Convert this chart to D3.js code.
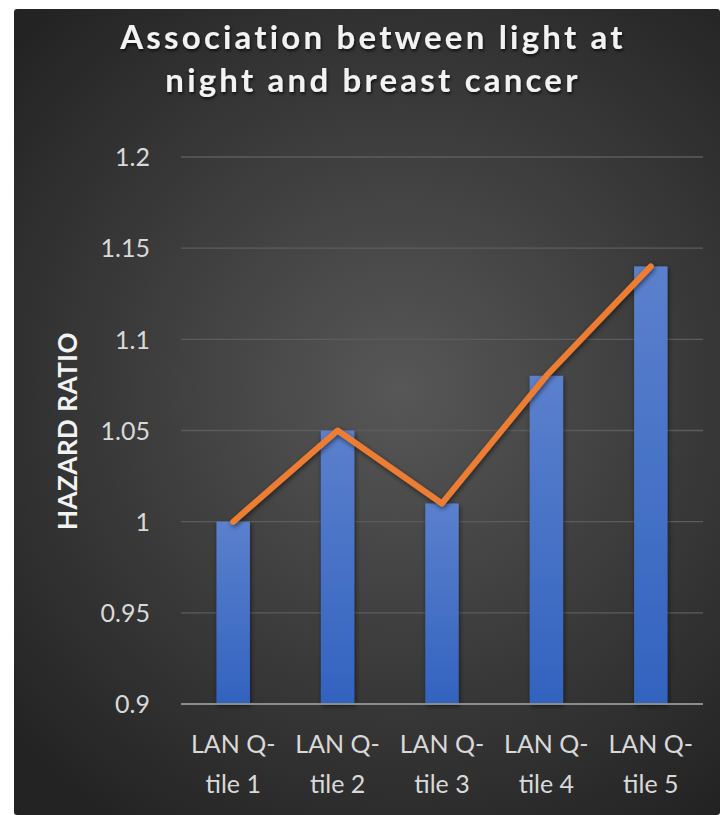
<!DOCTYPE html>
<html>
<head>
<meta charset="utf-8">
<script src="https://cdn.jsdelivr.net/npm/d3@7"></script>
<style>
  html, body { margin: 0; padding: 0; background: #ffffff; }
  svg { display: block; }
</style>
</head>
<body>
<svg id="chart" width="720" height="815"></svg>
<script>
// Hazard ratio of breast cancer by light-at-night (LAN) quintile
const categories = ["LAN Q-tile 1", "LAN Q-tile 2", "LAN Q-tile 3", "LAN Q-tile 4", "LAN Q-tile 5"];
const categoryLines = [["LAN Q-", "tile 1"], ["LAN Q-", "tile 2"], ["LAN Q-", "tile 3"], ["LAN Q-", "tile 4"], ["LAN Q-", "tile 5"]];
const barValues = [1.00, 1.05, 1.01, 1.08, 1.14];
const lineValues = [1.00, 1.05, 1.01, 1.08, 1.14];
const yTicks = [0.9, 0.95, 1, 1.05, 1.1, 1.15, 1.2];
const yTickLabels = ["0.9", "0.95", "1", "1.05", "1.1", "1.15", "1.2"];
const titleLines = ["Association between light at", "night and breast cancer"];
const yTitle = "HAZARD RATIO";

const svg = d3.select("#chart");
const W = 720, H = 815;
const panel = { x: 14, y: 9, w: W - 14, h: H - 9 };
const plot = { left: 181, right: 703, top: 157, bottom: 704 };

const defs = svg.append("defs");

// background: dark radial glow
const bg = defs.append("radialGradient").attr("id", "bgGrad")
  .attr("gradientUnits", "userSpaceOnUse")
  .attr("cx", 400).attr("cy", 390).attr("r", 520);
bg.append("stop").attr("offset", "0%").attr("stop-color", "#575757");
bg.append("stop").attr("offset", "55%").attr("stop-color", "#3a3a3a");
bg.append("stop").attr("offset", "100%").attr("stop-color", "#232323");

const barGrad = defs.append("linearGradient").attr("id", "barGrad")
  .attr("x1", 0).attr("y1", 0).attr("x2", 0).attr("y2", 1);
barGrad.append("stop").attr("offset", "0%").attr("stop-color", "#5b80cd");
barGrad.append("stop").attr("offset", "100%").attr("stop-color", "#3263bf");

const shadow = defs.append("filter").attr("id", "shadow")
  .attr("x", "-20%").attr("y", "-20%").attr("width", "140%").attr("height", "140%");
shadow.append("feDropShadow").attr("dx", 1).attr("dy", 2).attr("stdDeviation", 2.5)
  .attr("flood-color", "#000").attr("flood-opacity", 0.55);

const textShadow = defs.append("filter").attr("id", "textShadow")
  .attr("x", "-10%").attr("y", "-30%").attr("width", "120%").attr("height", "160%");
textShadow.append("feDropShadow").attr("dx", 1).attr("dy", 2).attr("stdDeviation", 1.5)
  .attr("flood-color", "#000").attr("flood-opacity", 0.7);

svg.append("rect")
  .attr("x", panel.x).attr("y", panel.y)
  .attr("width", panel.w).attr("height", panel.h)
  .attr("rx", 3)
  .attr("fill", "url(#bgGrad)");

// scales
const x = d3.scaleBand().domain(categories).range([plot.left, plot.right]).paddingInner(0.68).paddingOuter(0.34);
const y = d3.scaleLinear().domain([0.9, 1.2]).range([plot.bottom, plot.top]);

// gridlines
svg.append("g").selectAll("line").data(yTicks.slice(1)).join("line")
  .attr("x1", plot.left).attr("x2", plot.right)
  .attr("y1", d => y(d)).attr("y2", d => y(d))
  .attr("stroke", "#5c5c5c").attr("stroke-width", 1.3);

// bars
svg.append("g").selectAll("rect").data(barValues).join("rect")
  .attr("x", (d, i) => x(categories[i]))
  .attr("width", x.bandwidth())
  .attr("y", d => y(d))
  .attr("height", d => y(0.9) - y(d))
  .attr("fill", "url(#barGrad)")
  .attr("filter", "url(#shadow)");

// baseline
svg.append("line")
  .attr("x1", plot.left).attr("x2", plot.right)
  .attr("y1", y(0.9)).attr("y2", y(0.9))
  .attr("stroke", "#8c8c8c").attr("stroke-width", 2);

// trend line
const line = d3.line()
  .x((d, i) => x(categories[i]) + x.bandwidth() / 2)
  .y(d => y(d));
svg.append("path")
  .datum(lineValues)
  .attr("d", line)
  .attr("fill", "none")
  .attr("stroke", "#ed7d31")
  .attr("stroke-width", 6)
  .attr("stroke-linejoin", "round")
  .attr("stroke-linecap", "round")
  .attr("filter", "url(#shadow)");

// y axis labels
const yAxis = d3.axisLeft(y).tickValues(yTicks)
  .tickFormat((d, i) => yTickLabels[i]).tickSize(0).tickPadding(0);
const yg = svg.append("g").attr("transform", `translate(150,0)`).call(yAxis);
yg.select(".domain").remove();
yg.selectAll("text")
  .attr("fill", "#d9d9d9")
  .attr("font-family", "Lato, 'Open Sans', sans-serif")
  .attr("font-size", 25)
  .attr("dy", "0.35em");

// x axis labels (two lines each)
const xg = svg.append("g");
categories.forEach((c, i) => {
  const cx = x(c) + x.bandwidth() / 2;
  const t = xg.append("text")
    .attr("text-anchor", "middle")
    .attr("fill", "#d9d9d9")
    .attr("font-family", "Lato, 'Open Sans', sans-serif")
    .attr("font-size", 25);
  categoryLines[i].forEach((ln, j) => {
    t.append("tspan").attr("x", cx).attr("y", 753 + j * 40).text(ln);
  });
});

// y axis title
svg.append("text")
  .attr("transform", `translate(77,431) rotate(-90)`)
  .attr("text-anchor", "middle")
  .attr("fill", "#f2f2f2")
  .attr("font-family", "Lato, 'Open Sans', sans-serif")
  .attr("font-weight", "bold")
  .attr("font-size", 26)
  .attr("letter-spacing", 0.5)
  .text(yTitle);

// chart title
const title = svg.append("text")
  .attr("text-anchor", "middle")
  .attr("fill", "#f2f2f2")
  .attr("font-family", "Lato, 'Open Sans', sans-serif")
  .attr("font-weight", "bold")
  .attr("font-size", 33)
  .attr("letter-spacing", 3.2)
  .attr("filter", "url(#textShadow)");
titleLines.forEach((ln, j) => {
  title.append("tspan").attr("x", 373).attr("y", 49 + j * 43).text(ln);
});
</script>
</body>
</html>
